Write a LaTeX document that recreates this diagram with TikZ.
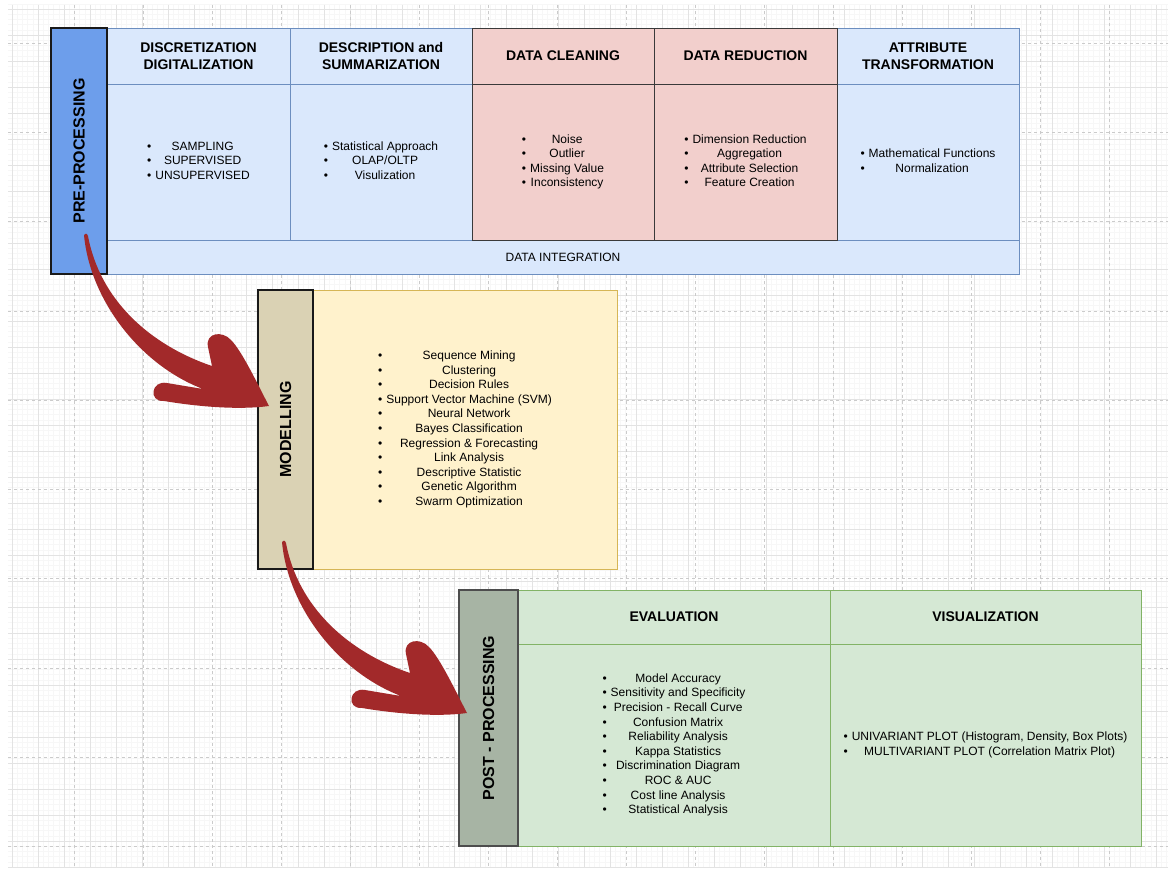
\documentclass[tikz,border=0pt]{standalone}
\usepackage{fontspec}
\setmainfont{Liberation Sans}
\definecolor{prebar}{HTML}{6D9EEB}
\definecolor{cellblue}{HTML}{DAE8FC}
\definecolor{cellblueline}{HTML}{6C8EBF}
\definecolor{cellpink}{HTML}{F2CFCC}
\definecolor{cellpinkline}{HTML}{3A3A3A}
\definecolor{modbar}{HTML}{DAD2B4}
\definecolor{cellyellow}{HTML}{FFF2CC}
\definecolor{cellyellowline}{HTML}{D6B656}
\definecolor{postbar}{HTML}{A7B4A4}
\definecolor{postbarline}{HTML}{4D4D4D}
\definecolor{cellgreen}{HTML}{D5E8D4}
\definecolor{cellgreenline}{HTML}{82B366}
\definecolor{arrowred}{HTML}{A2292A}
\definecolor{gridfine}{HTML}{F7F7F7}
\definecolor{gridmid}{HTML}{E3E3E3}
\definecolor{griddash}{HTML}{CBCBCB}

% centred bullet list: bullet column on the left, items centred
\newcommand{\itemlist}[1]{{\renewcommand{\arraystretch}{1}%
  \begin{tabular}{@{}l@{\hspace{4pt}}c@{}}#1\end{tabular}}}
\newcommand{\bul}{\textbullet}

\begin{document}
\begin{tikzpicture}[x=1pt,y=-1pt,
  box/.style={rectangle, inner sep=0pt, outer sep=0pt, anchor=north west},
  sz/.style 2 args={minimum width=#1pt, minimum height=#2pt},
  bluecell/.style={box, draw=cellblueline, fill=cellblue, line width=0.9pt},
  pinkcell/.style={box, draw=cellpinkline, fill=cellpink, line width=0.9pt},
  yellowcell/.style={box, draw=cellyellowline, fill=cellyellow, line width=0.9pt},
  greencell/.style={box, draw=cellgreenline, fill=cellgreen, line width=0.9pt},
  sidebar/.style={box, line width=1.8pt},
  hdr/.style={align=center, font=\fontsize{14}{17}\selectfont\bfseries},
  lst/.style={font=\fontsize{12}{14.6}\selectfont},
  barlabel/.style={rotate=90, inner sep=0pt, font=\fontsize{16}{19}\selectfont\bfseries},
  finegrid/.style={draw=gridfine, line width=0.5pt},
  midgrid/.style={draw=gridmid, line width=0.7pt},
  dashgrid/.style={draw=griddash, line width=0.8pt, dash pattern=on 3pt off 3pt},
  swoosh/.pic={
    \fill[arrowred]
      (0,0) .. controls (6,65) and (56,130) .. (119,154)
      -- (83,148)
      .. controls (67,145) and (64,167) .. (80,166)
      .. controls (116,172) and (156,175) .. (185,171)
      .. controls (174,150) and (158,116) .. (147,105)
      .. controls (138,95) and (121,98) .. (124,112)
      -- (128,131)
      .. controls (66,110) and (16,65) .. (4,1)
      .. controls (3,-2) and (1,-2) .. cycle;
  }
]
\useasboundingbox (0,0) rectangle (1168,869);
\fill[white] (0,0) rectangle (1168,869);

% background grid
\begin{scope}
  \clip (8,5) rectangle (1168,867);
  \foreach \k in {0,...,224} \draw[finegrid] ({6.8+5.2*\k},5) -- ++(0,862);
  \foreach \k in {0,...,167} \draw[finegrid] (8,{3.8+5.2*\k}) -- ++(1160,0);
  \foreach \k in {0,...,44} \draw[midgrid] ({12+26*\k},5) -- ++(0,862);
  \foreach \k in {0,...,33} \draw[midgrid] (8,{9+26*\k}) -- ++(1160,0);
  \foreach \k in {0,...,15} \draw[dashgrid] ({74+69*\k},5) -- ++(0,862);
  \foreach \k in {0,...,9} \draw[dashgrid] (8,{43+89.3*\k}) -- ++(1160,0);
\end{scope}

% ---------- pre-processing ----------
\node[bluecell, sz={912}{34}, lst] (integ) at (107,240) {DATA INTEGRATION};

\node[bluecell, sz={183}{56}, hdr] (dishead) at (107,28) {DISCRETIZATION\\DIGITALIZATION};
\node[bluecell, sz={183}{156}, lst] (disbody) at (107,84)
  {\itemlist{\bul & SAMPLING\\ \bul & SUPERVISED\\ \bul & UNSUPERVISED}};

\node[bluecell, sz={182}{56}, hdr] (deshead) at (290,28) {DESCRIPTION and\\SUMMARIZATION};
\node[bluecell, sz={182}{156}, lst] (desbody) at (290,84)
  {\itemlist{\bul & Statistical Approach\\ \bul & OLAP/OLTP\\ \bul & Visulization}};

\node[bluecell, sz={182}{56}, hdr] (atthead) at (837,28) {ATTRIBUTE\\TRANSFORMATION};
\node[bluecell, sz={182}{156}, lst] (attbody) at (837,84)
  {\itemlist{\bul & Mathematical Functions\\ \bul & Normalization}};

\node[pinkcell, sz={182}{56}, hdr] (clnhead) at (472,28) {DATA CLEANING};
\node[pinkcell, sz={182}{156}, lst] (clnbody) at (472,84)
  {\itemlist{\bul & Noise\\ \bul & Outlier\\ \bul & Missing Value\\ \bul & Inconsistency}};

\node[pinkcell, sz={183}{56}, hdr] (redhead) at (654,28) {DATA REDUCTION};
\node[pinkcell, sz={183}{156}, lst] (redbody) at (654,84)
  {\itemlist{\bul & Dimension Reduction\\ \bul & Aggregation\\ \bul & Attribute Selection\\ \bul & Feature Creation}};

\node[sidebar, sz={56}{246}, draw=black!90, fill=prebar] (pre) at (51,28) {};
\node[barlabel] (prelabel) at (pre.center) {PRE-PROCESSING};

% ---------- modelling ----------
\node[yellowcell, sz={304}{279}, lst] (modbody) at (313,290)
  {\itemlist{\bul & Sequence Mining\\ \bul & Clustering\\ \bul & Decision Rules\\
   \bul & Support Vector Machine (SVM)\\ \bul & Neural Network\\ \bul & Bayes Classification\\
   \bul & Regression \& Forecasting\\ \bul & Link Analysis\\ \bul & Descriptive Statistic\\
   \bul & Genetic Algorithm\\ \bul & Swarm Optimization}};
\node[sidebar, sz={55}{279}, draw=black!90, fill=modbar] (mod) at (258,290) {};
\node[barlabel] (modlabel) at (mod.center) {MODELLING};

% ---------- post-processing ----------
\node[greencell, sz={312}{54}, hdr] (evalhead) at (518,590) {EVALUATION};
\node[greencell, sz={312}{202}, lst] (evalbody) at (518,644)
  {\itemlist{\bul & Model Accuracy\\ \bul & Sensitivity and Specificity\\ \bul & Precision - Recall Curve\\
   \bul & Confusion Matrix\\ \bul & Reliability Analysis\\ \bul & Kappa Statistics\\
   \bul & Discrimination Diagram\\ \bul & ROC \& AUC\\ \bul & Cost line Analysis\\ \bul & Statistical Analysis}};
\node[greencell, sz={311}{54}, hdr] (vishead) at (830,590) {VISUALIZATION};
\node[greencell, sz={311}{202}, lst] (visbody) at (830,644)
  {\itemlist{\bul & UNIVARIANT PLOT (Histogram, Density, Box Plots)\\ \bul & MULTIVARIANT PLOT (Correlation Matrix Plot)}};
\node[sidebar, sz={59}{256}, draw=postbarline, line width=1.5pt, fill=postbar] (post) at (459,590) {};
\node[barlabel] (postlabel) at (post.center) {POST - PROCESSING};

% ---------- flow arrows ----------
\pic at ([xshift=5pt,yshift=39pt]pre.south) {swoosh};
\pic at ([xshift=-3.5pt,yshift=27pt]mod.south) {swoosh};
\end{tikzpicture}
\end{document}
